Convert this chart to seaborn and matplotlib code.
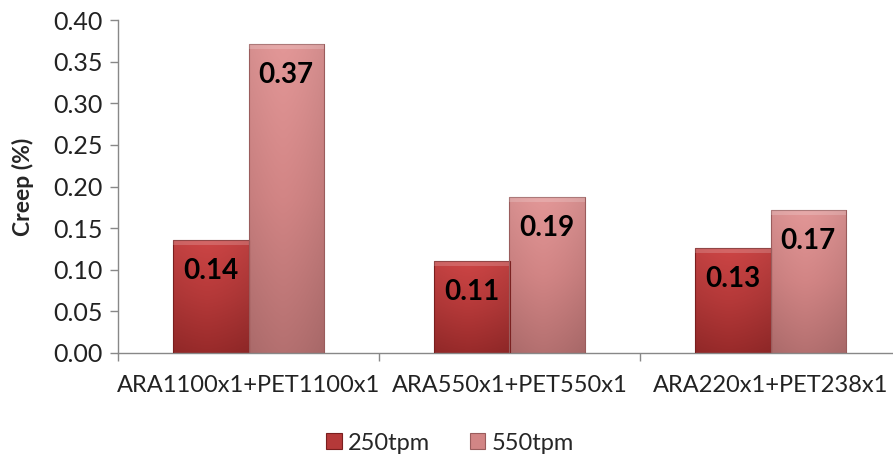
import numpy as np
import pandas as pd
import seaborn as sns
import matplotlib
matplotlib.use("Agg")
import matplotlib.pyplot as plt
from matplotlib.patches import Rectangle
from matplotlib.colors import LinearSegmentedColormap

# Creep results per yarn combination and twist level
categories = ["ARA1100x1+PET1100x1", "ARA550x1+PET550x1", "ARA220x1+PET238x1"]
series = ["250tpm", "550tpm"]
creep_250 = [0.136, 0.110, 0.126]
creep_550 = [0.371, 0.187, 0.172]
yticks = [0.00, 0.05, 0.10, 0.15, 0.20, 0.25, 0.30, 0.35, 0.40]

df = pd.DataFrame({
    "combo": categories * 2,
    "twist": [series[0]] * 3 + [series[1]] * 3,
    "creep": creep_250 + creep_550,
})

sns.set_theme(style="white")
plt.rcParams["font.family"] = ["Lato", "DejaVu Sans"]

fig = plt.figure(figsize=(8.93, 4.62), dpi=100)
ax = fig.add_axes([118 / 893, 1 - 353 / 462, 783 / 893, 333 / 462])

base = {"250tpm": "#b23636", "550tpm": "#cf8080"}
sns.barplot(data=df, x="combo", y="creep", hue="twist", order=categories,
            hue_order=series, palette=base, width=0.576, gap=0,
            edgecolor="none", linewidth=0, ax=ax, legend=False)

grad = {
    "250tpm": ["#cc4545", "#b53939", "#982a2a"],
    "550tpm": ["#e29797", "#d28585", "#b47070"],
}
edge = {"250tpm": "#7a1e1e", "550tpm": "#9a5c5c"}

for cont, name in zip(ax.containers, series):
    cmap = LinearSegmentedColormap.from_list(name, grad[name])
    for bar in cont:
        x0, y0 = bar.get_x(), bar.get_y()
        w, h = bar.get_width(), bar.get_height()
        bar.set_alpha(0)
        g = np.linspace(0, 1, 256).reshape(-1, 1)
        # horizontal shading for a bevelled look
        hs = np.linspace(0, 1, 64)
        shade = 1 - 0.18 * np.abs(hs - 0.45) ** 1.5
        img = cmap(g)[:, :, :3] * shade[None, :, None]
        im = ax.imshow(img, extent=(x0, x0 + w, y0, y0 + h), origin="upper",
                       aspect="auto", zorder=2)
        clip = Rectangle((x0, y0), w, h, transform=ax.transData)
        im.set_clip_path(clip)
        ax.add_patch(Rectangle((x0, y0), w, h, fill=False, edgecolor=edge[name],
                               linewidth=0.8, zorder=3))
        # light top bevel strip
        ax.add_patch(Rectangle((x0, y0 + h - 0.006), w, 0.006, facecolor="white",
                               alpha=0.18, edgecolor="none", zorder=3))
        ax.annotate(f"{h:.2f}", (x0 + w / 2, y0 + h), xytext=(0, -31),
                    textcoords="offset pixels",
                    ha="center", va="center", fontsize=20, fontweight="bold",
                    color="black", zorder=4)

ax.set_xlim(-0.5, 2.5)
ax.set_ylim(0, 0.40)
ax.set_yticks(yticks)
ax.set_yticklabels([f"{v:.2f}" for v in yticks], fontsize=18, color="#222222")
ax.set_xticks(range(len(categories)))
ax.set_xticklabels(categories, fontsize=17, color="#222222")
ax.set_xticks([-0.5, 0.5, 1.5, 2.5], minor=True)
ax.tick_params(axis="x", which="major", length=0, pad=16)
ax.tick_params(axis="x", which="minor", length=6, color="#888888", width=1,
               direction="out", bottom=True)
ax.tick_params(axis="y", length=6, color="#888888", width=1, direction="out",
               left=True, pad=5)
ax.set_xlabel("")
ax.set_ylabel("Creep (%)", fontsize=16.5, fontweight="bold", labelpad=14)

for s in ["top", "right"]:
    ax.spines[s].set_visible(False)
for s in ["left", "bottom"]:
    ax.spines[s].set_color("#888888")
    ax.spines[s].set_linewidth(1)

handles = [Rectangle((0, 0), 1, 1, facecolor=grad[n][1], edgecolor=edge[n],
                     linewidth=0.8) for n in series]
fig.legend(handles, series, loc="center", bbox_to_anchor=(450 / 893, 1 - 443 / 462),
           ncol=2, frameon=False, fontsize=17, handlelength=0.65, handleheight=0.65,
           handletextpad=0.25, columnspacing=1.7)

fig.savefig("out.png", dpi=100)
